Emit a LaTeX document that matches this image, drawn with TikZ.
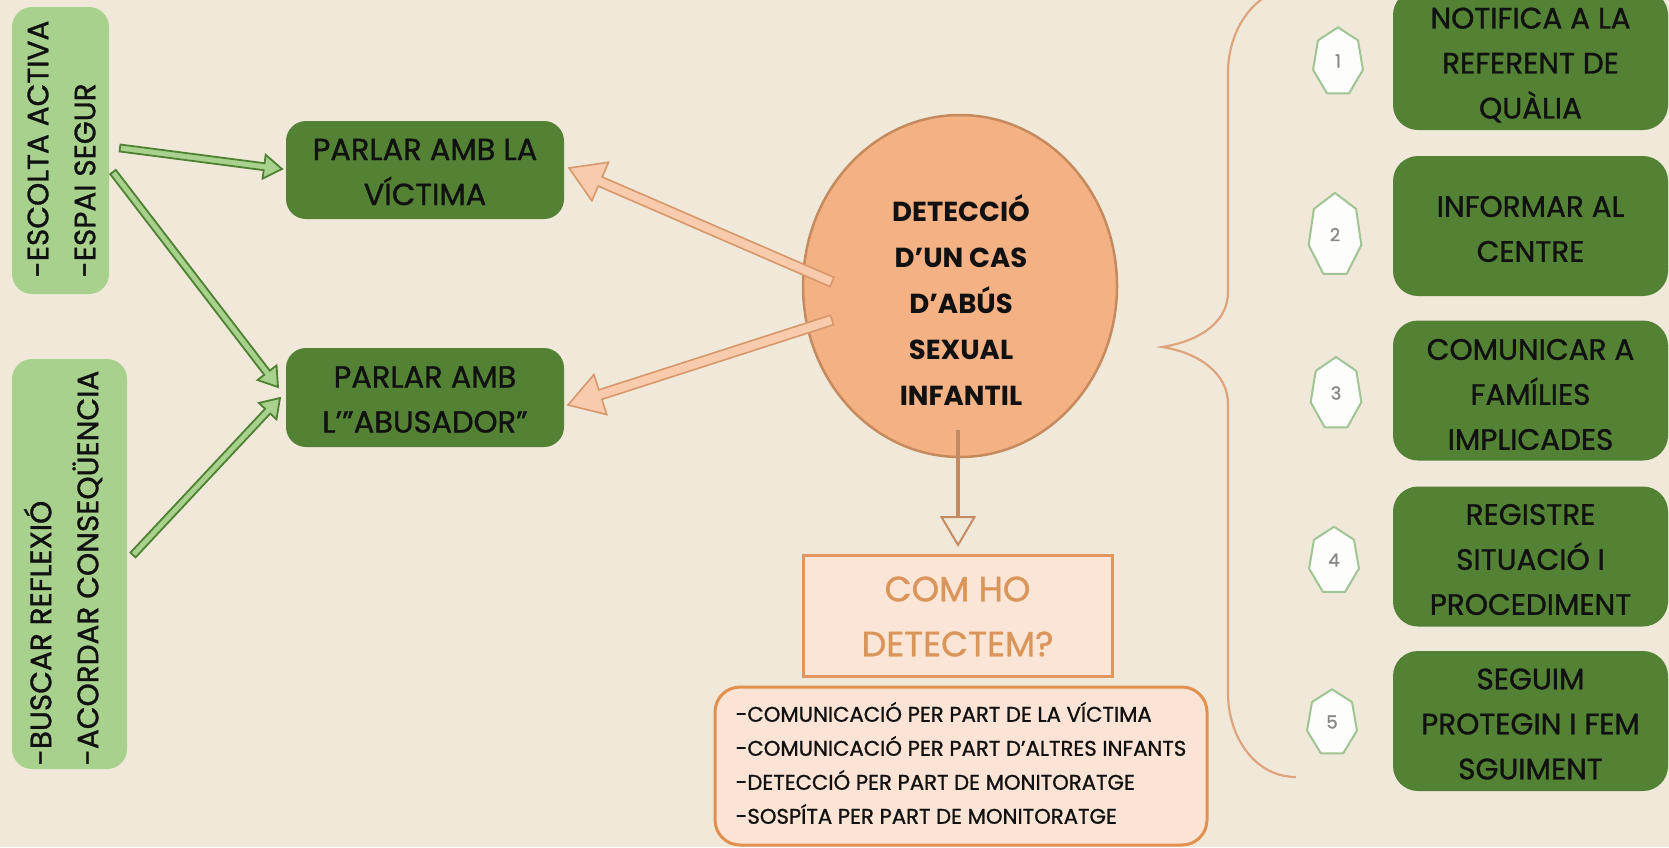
\documentclass[tikz,border=0pt]{standalone}
\usepackage{fontspec}
\setmainfont{Poppins}[UprightFeatures={FakeBold=1.1}]
\usetikzlibrary{shapes.geometric,calc}
\definecolor{bg}{HTML}{F0E9D9}
\definecolor{dkgreen}{HTML}{548235}
\definecolor{ltgreen}{HTML}{A9D18E}
\definecolor{gline}{HTML}{4F8132}
\definecolor{ellfill}{HTML}{F4B183}
\definecolor{ellline}{HTML}{C58A5E}
\definecolor{peach}{HTML}{F8CBAD}
\definecolor{oline}{HTML}{D7976A}
\definecolor{dline}{HTML}{C48B62}
\definecolor{comfill}{HTML}{FBE5D6}
\definecolor{comline}{HTML}{E1965F}
\definecolor{comtext}{HTML}{DA965A}
\definecolor{listfill}{HTML}{FBE4D5}
\definecolor{listline}{HTML}{E3904F}
\definecolor{bracecol}{HTML}{DDA47E}
\definecolor{heptline}{HTML}{A0C493}
\definecolor{heptfill}{HTML}{FDFDFB}
\definecolor{numgray}{HTML}{888888}
\definecolor{txt}{HTML}{111111}

\newcommand\blockarrow[6]{%
  \path[#1] let \p1=(#2), \p2=(#3),
    \n1={atan2(\y2-\y1,\x2-\x1)},
    \n2={veclen(\x2-\x1,\y2-\y1)-#6}
  in ($(\p1)+(\n1+90:#4)$) -- ($(\p1)+(\n1:\n2)+(\n1+90:#4)$)
  -- ($(\p1)+(\n1:\n2)+(\n1+90:#5)$) -- (\p2)
  -- ($(\p1)+(\n1:\n2)+(\n1-90:#5)$) -- ($(\p1)+(\n1:\n2)+(\n1-90:#4)$)
  -- ($(\p1)+(\n1-90:#4)$) -- cycle;}

\newcommand\hept[6]{% name, cx, cy, rx, ry, number
  \draw[heptst] ($(#2,#3)+(90:#4pt and #5pt)$)
    \foreach \k in {1,...,6}{ -- ($(#2,#3)+({90+\k*360/7}:#4pt and #5pt)$)} -- cycle;
  \node[num] (#1) at (#2,#3-1) {#6};}

\begin{document}
\begin{tikzpicture}[x=1pt,y=-1pt,
  dkbox/.style={fill=dkgreen, rounded corners=25pt, inner sep=0pt},
  dktext/.style={align=center, inner sep=0pt, text=txt, font=\fontsize{29.5}{45}\selectfont},
  lt/.style={fill=ltgreen, rounded corners=20pt, inner sep=0pt},
  ltxt/.style={rotate=90, align=left, inner sep=0pt, text=txt, font=\fontsize{29.5}{47}\selectfont},
  garrow/.style={fill=ltgreen, draw=gline, line width=1.8pt, line join=miter},
  oarrow/.style={fill=peach, draw=oline, line width=1.6pt, line join=miter},
  heptst/.style={fill=heptfill, draw=heptline, line width=2pt, line join=round},
  num/.style={text=numgray, font=\fontsize{18}{18}\selectfont, inner sep=0pt},
  bracest/.style={draw=bracecol, line width=2.2pt},
  dlinest/.style={draw=dline, line width=4pt},
  dheadst/.style={draw=dline, fill=bg, line width=2pt, line join=miter},
]
\path[use as bounding box, fill=bg] (0,0) rectangle (1669,847);

% brace
\draw[bracest] (1296,-12) .. controls (1255,-12) and (1228,30) .. (1228,72)
  -- (1228,292) .. controls (1228,322) and (1200,341) .. (1162,347)
  .. controls (1200,353) and (1228,374) .. (1228,404)
  -- (1228,693) .. controls (1228,737) and (1255,777) .. (1296,777);

% left light boxes
\node[lt, minimum width=97, minimum height=287] (l1) at (60.5,150.5) {};
\node[ltxt] (l1t) at (61.5,149) {-ESCOLTA ACTIVA\\-ESPAI SEGUR};
\node[lt, minimum width=115, minimum height=410] (l2) at (69.5,564) {};
\node[ltxt] (l2t) at (63,568) {-BUSCAR REFLEXIÓ\\-ACORDAR CONSEQÜENCIA};

% parlar boxes
\node[dkbox, rounded corners=20pt, minimum width=278, minimum height=98] (pv) at (425,170) {};
\node[dktext, font=\fontsize{30.5}{45}\selectfont] (pvt) at ($(pv)+(0,2)$) {PARLAR AMB LA\\VÍCTIMA};
\node[dkbox, rounded corners=20pt, minimum width=278, minimum height=99] (pa) at (425,397.5) {};
\node[dktext, font=\fontsize{30.5}{45}\selectfont] (pat) at ($(pa)+(0,2)$) {PARLAR AMB\\L’”ABUSADOR”};

% central ellipse
\node[ellipse, fill=ellfill, draw=ellline, line width=2.5pt, minimum width=314,
  minimum height=342, inner sep=0pt] (det) at (960,286) {};
\node[align=center, inner sep=0pt, text=txt, font=\bfseries\fontsize{27.5}{46}\selectfont]
  (dett) at (961,300) {DETECCIÓ\\D’UN CAS\\D’ABÚS\\SEXUAL\\INFANTIL};

% green arrows
\coordinate (g1s) at (120,148);
\coordinate (g1e) at (282,169);
\coordinate (g2s) at (113,172);
\coordinate (g2e) at (278,387);
\coordinate (g3s) at (133,555);
\coordinate (g3e) at (280,398);
\blockarrow{garrow}{g1s}{g1e}{3.5pt}{12pt}{18pt}
\blockarrow{garrow}{g2s}{g2e}{3.5pt}{12pt}{18pt}
\blockarrow{garrow}{g3s}{g3e}{3.5pt}{12pt}{18pt}

% orange arrows
\coordinate (o1s) at (832,282);
\coordinate (o1e) at (569,168);
\coordinate (o2s) at (832,320);
\coordinate (o2e) at (568,405);
\blockarrow{oarrow}{o1s}{o1e}{5pt}{21pt}{34pt}
\blockarrow{oarrow}{o2s}{o2e}{5pt}{21pt}{34pt}

% COM HO box
\node[draw=comline, fill=comfill, line width=3pt, minimum width=309, minimum height=121,
  inner sep=0pt] (com) at (957.5,615.5) {};
\node[align=center, inner sep=0pt, text=comtext, font=\fontsize{35}{55}\selectfont]
  (comt) at ($(com)+(0,1)$) {COM HO\\DETECTEM?};

% down arrow
\coordinate (ds) at (958,430);
\coordinate (db) at (958,517);
\coordinate (dt) at (958,545);
\draw[dlinest] (ds) -- (db);
\draw[dheadst] ($(db)+(-16.5,0)$) -- ($(db)+(16.5,0)$) -- (dt) -- cycle;

% list box
\node[draw=listline, fill=listfill, line width=3pt, rounded corners=25pt,
  minimum width=492, minimum height=158, inner sep=0pt] (lst) at (961,766) {};
\node[align=left, inner sep=0pt, text=txt, font=\fontsize{21.2}{34}\selectfont]
  (lstt) at ($(lst)+(0,-3)$)
  {-COMUNICACIÓ PER PART DE LA VÍCTIMA\\-COMUNICACIÓ PER PART D’ALTRES INFANTS\\-DETECCIÓ PER PART DE MONITORATGE\\-SOSPÍTA PER PART DE MONITORATGE};

% right boxes
\node[dkbox, minimum width=275, minimum height=140] (r1) at (1530.5,60) {};
\node[dktext] (r1t) at ($(r1)+(0,5)$) {NOTIFICA A LA\\REFERENT DE\\QUÀLIA};
\node[dkbox, minimum width=275, minimum height=140] (r2) at (1530.5,226) {};
\node[dktext] (r2t) at ($(r2)+(0,3)$) {INFORMAR AL\\CENTRE};
\node[dkbox, minimum width=275, minimum height=140] (r3) at (1530.5,390.5) {};
\node[dktext] (r3t) at ($(r3)+(0,4)$) {COMUNICAR A\\FAMÍLIES\\IMPLICADES};
\node[dkbox, minimum width=275, minimum height=140] (r4) at (1530.5,556.5) {};
\node[dktext] (r4t) at ($(r4)+(0,3)$) {REGISTRE\\SITUACIÓ I\\PROCEDIMENT};
\node[dkbox, minimum width=275, minimum height=140] (r5) at (1530.5,721) {};
\node[dktext] (r5t) at ($(r5)+(0,3)$) {SEGUIM\\PROTEGIN I FEM\\SGUIMENT};

% heptagons
\hept{h1}{1338}{62}{25.6}{34.7}{1}
\hept{h2}{1335}{235.5}{27}{42.6}{2}
\hept{h3}{1336}{394}{26}{37}{3}
\hept{h4}{1334}{561}{25.6}{34.2}{4}
\hept{h5}{1332}{723}{25.6}{33.7}{5}
\end{tikzpicture}
\end{document}
